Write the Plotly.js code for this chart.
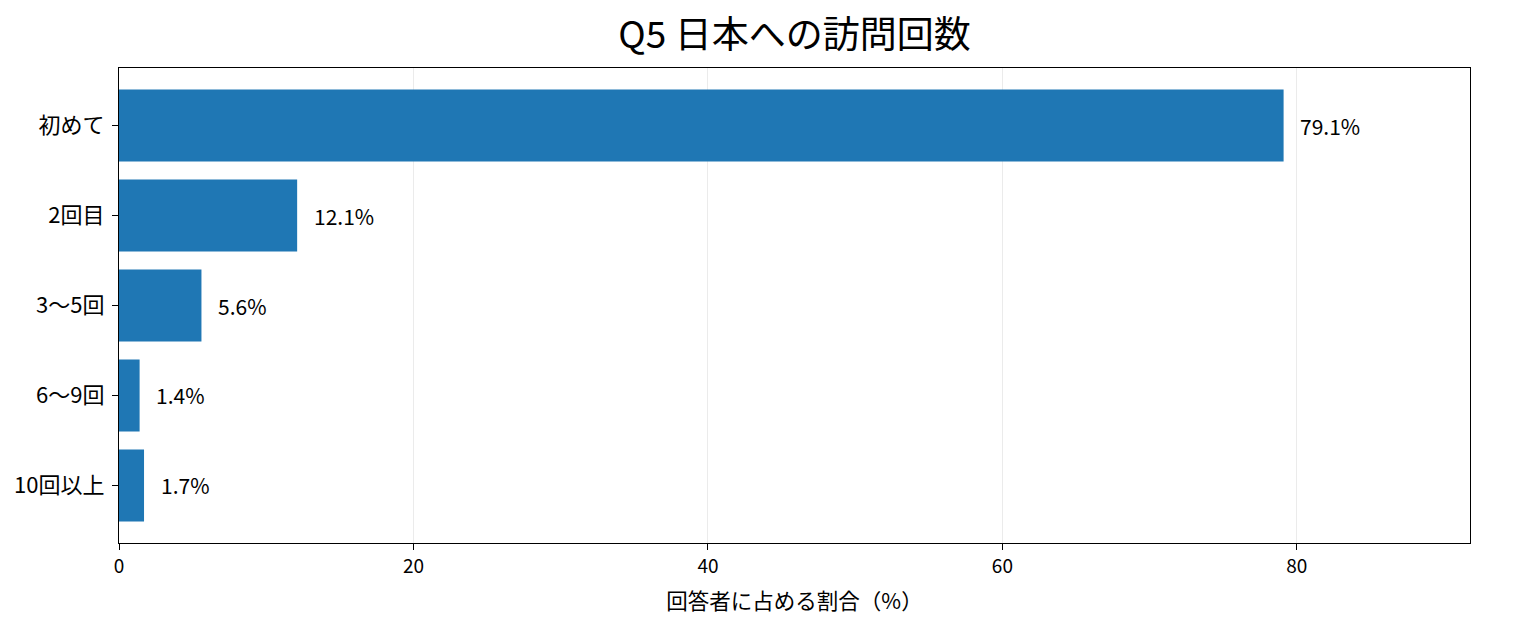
<!DOCTYPE html>
<html>
<head>
<meta charset="utf-8">
<script src="https://cdn.plot.ly/plotly-3.0.1.min.js"></script>
<style>
  html, body { margin: 0; padding: 0; background: #fff; }
  #chart { width: 1540px; height: 638px; }
</style>
</head>
<body>
<div id="chart"></div>
<script>
// 回答データ
const categories = ['初めて', '2回目', '3〜5回', '6〜9回', '10回以上'];
const shares = [79.1, 12.1, 5.6, 1.4, 1.7];
const xTicks = [0, 20, 40, 60, 80];

const font = '"Noto Sans CJK JP", "Noto Sans", sans-serif';

const data = [{
    type: 'bar',
    orientation: 'h',
    y: categories,
    x: shares,
    width: 0.8,
    marker: { color: '#1f77b4' },
    hoverinfo: 'none'
}];

// バーの右側にラベル
const annotations = shares.map((v, i) => ({
    x: v + 1,
    y: categories[i],
    xref: 'x',
    yref: 'y',
    text: v.toFixed(1) + '%',
    showarrow: false,
    xanchor: 'left',
    yanchor: 'middle',
    font: { family: font, size: 21, color: '#000' }
}));

const layout = {
    width: 1540,
    height: 638,
    paper_bgcolor: '#fff',
    plot_bgcolor: '#fff',
    margin: { l: 119, r: 70, t: 68, b: 95 },
    showlegend: false,
    title: {
        text: 'Q5 日本への訪問回数',
        font: { family: font, size: 37, color: '#000' },
        xref: 'paper',
        x: 0.5,
        xanchor: 'center',
        yref: 'container',
        y: 1 - 35 / 638,
        yanchor: 'middle'
    },
    xaxis: {
        range: [0, 91.76],
        tickvals: xTicks,
        ticktext: xTicks.map(String),
        ticks: 'outside',
        ticklen: 6,
        tickcolor: '#000',
        tickfont: { family: font, size: 19, color: '#000' },
        showline: true,
        linecolor: '#000',
        linewidth: 1.2,
        mirror: true,
        showgrid: true,
        gridcolor: 'rgba(190,190,190,0.3)',
        gridwidth: 1,
        zeroline: false,
        layer: 'above traces',
        title: {
            text: '回答者に占める割合（%）',
            font: { family: font, size: 21.5, color: '#000' },
            standoff: 17
        }
    },
    yaxis: {
        type: 'category',
        autorange: false,
        range: [4.64, -0.64],
        ticks: 'outside',
        ticklen: 6,
        tickcolor: '#000',
        ticklabelstandoff: 3,
        tickfont: { family: font, size: 22, color: '#000' },
        showline: true,
        linecolor: '#000',
        linewidth: 1.2,
        mirror: true,
        showgrid: false,
        zeroline: false
    },
    annotations: annotations
};

Plotly.newPlot('chart', data, layout, { displayModeBar: false, staticPlot: true });
</script>
</body>
</html>
